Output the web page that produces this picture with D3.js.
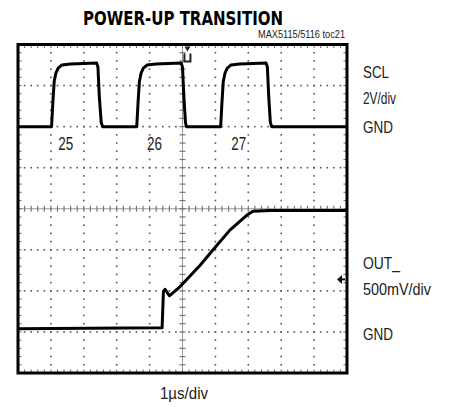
<!DOCTYPE html>
<html>
<head>
    <style>
        body { margin: 0; background: #fff; }
        .lbl { font-family: "Liberation Sans", Arial, sans-serif; fill: #222; }
        .title { font-family: "DejaVu Sans Condensed", "Liberation Sans", sans-serif; font-weight: bold; fill: #000; }
    </style>
    <script src="https://d3js.org/d3.v7.min.js"></script>
</head>
<body>
<svg width="449" height="407"></svg>
<script>
    // SCL trace, time in us, volts (2V/div)
    var sclTime = [0, 1.02, 1.06, 1.10, 1.15, 1.22, 1.33, 1.60, 2.39, 2.43, 2.47, 2.53, 2.57,
                   3.61, 3.65, 3.69, 3.74, 3.81, 3.92, 4.19, 4.96, 5.00, 5.04, 5.09, 5.12,
                   6.16, 6.20, 6.24, 6.29, 6.36, 6.47, 6.74, 7.54, 7.58, 7.62, 7.67, 7.71, 10];
    var sclVolts = [0, 0, 1.2, 2.2, 2.6, 2.85, 3.0, 3.05, 3.1, 2.9, 1.5, 0.2, 0,
                    0, 1.2, 2.2, 2.6, 2.85, 3.0, 3.05, 3.1, 2.9, 1.5, 0.2, 0,
                    0, 1.2, 2.2, 2.6, 2.85, 3.0, 3.05, 3.1, 2.9, 1.5, 0.2, 0, 0];

    // OUT_ trace, time in us, volts (500mV/div)
    var outTime = [0, 4.38, 4.42, 4.47, 4.60, 4.92, 5.53, 5.93, 6.44, 6.95, 7.14, 7.66, 10];
    var outVolts = [0.04, 0.05, 0.49, 0.52, 0.44, 0.55, 0.81, 1.00, 1.24, 1.42, 1.47, 1.48, 1.48];

    var pulseLabels = ["25", "26", "27"];
    var pulseLabelTime = [1.45, 4.15, 6.71];

    var svg = d3.select("svg");
    var x0 = 18, x1 = 347, y0 = 44.5, y1 = 373;

    var x = d3.scaleLinear().domain([0, 10]).range([x0, x1]);
    var y = d3.scaleLinear().domain([0, 8]).range([y1, y0]);
    // channel offsets: SCL ground at div 6, OUT ground at div 1
    var ySCL = function (v) { return y(6 + v / 2); };
    var yOUT = function (v) { return y(1 + v / 0.5); };

    var g = svg.append("g");

    // dotted graticule
    var minorX = d3.range(0, 10.01, 0.2), minorY = d3.range(0, 8.01, 0.2);
    [1, 2, 3, 4, 6, 7, 8, 9].forEach(function (i) {
        g.selectAll(null).data(minorY).enter().append("rect")
            .attr("x", x(i) - 0.8).attr("y", function (d) { return y(d) - 0.8; })
            .attr("width", 1.6).attr("height", 1.6).attr("fill", "#555");
    });
    [1, 2, 3, 5, 6, 7].forEach(function (i) {
        g.selectAll(null).data(minorX).enter().append("rect")
            .attr("x", function (d) { return x(d) - 0.8; }).attr("y", y(i) - 0.8)
            .attr("width", 1.6).attr("height", 1.6).attr("fill", "#555");
    });

    // center cross with ticks
    g.append("line").attr("x1", x(5)).attr("x2", x(5)).attr("y1", y0).attr("y2", y1)
        .attr("stroke", "#999").attr("stroke-width", 1);
    g.append("line").attr("x1", x0).attr("x2", x1).attr("y1", y(4)).attr("y2", y(4))
        .attr("stroke", "#999").attr("stroke-width", 1);
    g.selectAll(null).data(minorX).enter().append("line")
        .attr("x1", function (d) { return x(d); }).attr("x2", function (d) { return x(d); })
        .attr("y1", y(4) - 3).attr("y2", y(4) + 3).attr("stroke", "#777").attr("stroke-width", 1.2);
    g.selectAll(null).data(minorY).enter().append("line")
        .attr("y1", function (d) { return y(d); }).attr("y2", function (d) { return y(d); })
        .attr("x1", x(5) - 3).attr("x2", x(5) + 3).attr("stroke", "#777").attr("stroke-width", 1.2);

    // edge ticks
    g.selectAll(null).data(minorX).enter().append("line")
        .attr("x1", function (d) { return x(d); }).attr("x2", function (d) { return x(d); })
        .attr("y1", y0).attr("y2", y0 + 3.5).attr("stroke", "#666");
    g.selectAll(null).data(minorX).enter().append("line")
        .attr("x1", function (d) { return x(d); }).attr("x2", function (d) { return x(d); })
        .attr("y1", y1).attr("y2", y1 - 3.5).attr("stroke", "#666");
    g.selectAll(null).data(minorY).enter().append("line")
        .attr("y1", function (d) { return y(d); }).attr("y2", function (d) { return y(d); })
        .attr("x1", x0).attr("x2", x0 + 3.5).attr("stroke", "#666");
    g.selectAll(null).data(minorY).enter().append("line")
        .attr("y1", function (d) { return y(d); }).attr("y2", function (d) { return y(d); })
        .attr("x1", x1).attr("x2", x1 - 3.5).attr("stroke", "#666");

    // traces
    var sclLine = d3.line().x(function (d) { return x(d[0]); }).y(function (d) { return ySCL(d[1]); });
    var outLine = d3.line().x(function (d) { return x(d[0]); }).y(function (d) { return yOUT(d[1]); });
    g.append("path").attr("d", sclLine(d3.zip(sclTime, sclVolts)))
        .attr("fill", "none").attr("stroke", "#000").attr("stroke-width", 3).attr("stroke-linejoin", "round");
    g.append("path").attr("d", outLine(d3.zip(outTime, outVolts)))
        .attr("fill", "none").attr("stroke", "#000").attr("stroke-width", 3).attr("stroke-linejoin", "round");

    // frame
    g.append("rect").attr("x", x0).attr("y", y0).attr("width", x1 - x0).attr("height", y1 - y0)
        .attr("fill", "none").attr("stroke", "#000").attr("stroke-width", 3);

    // trigger marker at top
    var tx = x(5.15);
    g.append("path").attr("d", "M" + (tx - 3) + "," + (y0 + 2) + "L" + (tx + 3) + "," + (y0 + 2) + "L" + tx + "," + (y0 + 7) + "Z")
        .attr("fill", "#222");
    g.append("path").attr("d", "M" + (tx - 3) + "," + (y0 + 9) + "L" + (tx - 3) + "," + (y0 + 17) + "L" + (tx + 3) + "," + (y0 + 17) + "L" + (tx + 3) + "," + (y0 + 9))
        .attr("fill", "none").attr("stroke", "#222").attr("stroke-width", 2);
    // OUT level marker on the right
    var my = yOUT(0.64);
    g.append("path").attr("d", "M" + (x1 - 10) + "," + my + "L" + (x1 - 5) + "," + (my - 4.5) + "L" + (x1 - 5) + "," + (my + 4.5) + "Z")
        .attr("fill", "#111");
    g.append("line").attr("x1", x1 - 5).attr("x2", x1 - 2).attr("y1", my).attr("y2", my)
        .attr("stroke", "#111").attr("stroke-width", 2);

    // pulse numbers
    g.selectAll(null).data(pulseLabels).enter().append("text")
        .attr("class", "lbl").attr("font-size", 18)
        .attr("x", function (d, i) { return x(pulseLabelTime[i]) - 7.5; })
        .attr("y", 150).attr("textLength", 15).attr("lengthAdjust", "spacingAndGlyphs")
        .text(function (d) { return d; });

    // titles
    svg.append("text").attr("class", "title").attr("x", 83).attr("y", 24.5)
        .attr("font-size", 19).attr("textLength", 200).attr("lengthAdjust", "spacingAndGlyphs")
        .text("POWER-UP TRANSITION");
    svg.append("text").attr("class", "lbl").attr("x", 258).attr("y", 38)
        .attr("font-size", 10).attr("textLength", 87).attr("lengthAdjust", "spacingAndGlyphs")
        .text("MAX5115/5116 toc21");

    // right labels
    var rightText = ["SCL", "2V/div", "GND", "OUT_", "500mV/div", "GND"];
    var rightY = [78.3, 104, 133.3, 268.5, 295, 340];
    var rightW = [26, 33, 30, 37, 68, 30];
    svg.selectAll(null).data(rightText).enter().append("text")
        .attr("class", "lbl").attr("font-size", 16)
        .attr("x", 363).attr("y", function (d, i) { return rightY[i]; })
        .attr("textLength", function (d, i) { return rightW[i]; }).attr("lengthAdjust", "spacingAndGlyphs")
        .text(function (d) { return d; });

    svg.append("text").attr("class", "lbl").attr("font-size", 16)
        .attr("x", 160).attr("y", 399).attr("textLength", 48).attr("lengthAdjust", "spacingAndGlyphs")
        .text("1\u00b5s/div");
</script>
</body>
</html>
